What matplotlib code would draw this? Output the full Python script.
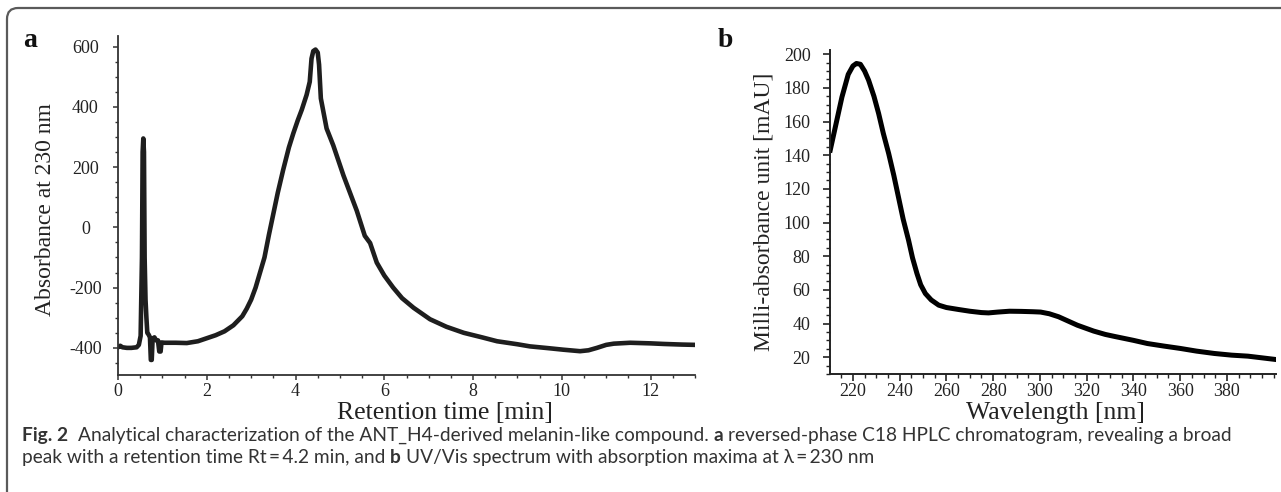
import matplotlib
matplotlib.use("Agg")
import matplotlib.pyplot as plt
from matplotlib.ticker import MultipleLocator
from matplotlib.patches import FancyBboxPatch
from matplotlib.transforms import IdentityTransform

# ---------------- data ----------------
# Panel a: HPLC chromatogram (retention time [min] vs absorbance at 230 nm)
ret_time = [0.0, 0.05, 0.1, 0.2, 0.3, 0.42, 0.47, 0.51, 0.54, 0.555, 0.57, 0.585, 0.60,
            0.62, 0.64, 0.66, 0.69, 0.72, 0.74, 0.76, 0.78, 0.82, 0.86, 0.90, 0.93, 0.96,
            0.98, 1.05, 1.3, 1.55, 1.8, 2.0, 2.2, 2.4, 2.6, 2.8, 2.9, 3.0, 3.1, 3.2, 3.3,
            3.4, 3.5, 3.6, 3.72, 3.85, 3.95, 4.05, 4.14, 4.25, 4.32, 4.36, 4.40, 4.45,
            4.50, 4.53, 4.57, 4.70, 4.85, 5.08, 5.38, 5.56, 5.62, 5.68, 5.83, 6.0, 6.2,
            6.4, 6.66, 7.03, 7.4, 7.79, 8.2, 8.54, 9.0, 9.28, 9.7, 10.03, 10.41, 10.6,
            10.79, 11.0, 11.17, 11.54, 12.0, 12.3, 12.7, 13.0]
absorbance = [-398, -393, -398, -400, -400, -398, -390, -360, -100, 250, 295, 250, -100,
              -240, -300, -350, -356, -365, -440, -440, -370, -365, -375, -375, -412, -412,
              -382, -383, -383, -384, -378, -368, -358, -345, -325, -295, -270, -240, -200,
              -150, -100, -25, 45, 115, 190, 265, 312, 355, 390, 440, 483, 560, 585, 590,
              580, 540, 428, 328, 272, 172, 55, -28, -40, -52, -117, -160, -200, -235, -267,
              -305, -330, -350, -365, -378, -388, -395, -401, -406, -411, -408, -400, -390,
              -386, -383, -385, -387, -389, -390]

# Panel b: UV/Vis spectrum (wavelength [nm] vs milli-absorbance [mAU])
wavelength = [210.3, 213, 215.3, 218, 220, 221.5, 223.2, 225, 226.7, 229, 231, 233, 235.3,
              237.5, 239.5, 241.5, 243.8, 245.5, 247.4, 249, 251, 253.5, 256.7, 260, 265.3,
              270, 275, 278, 282, 287, 292, 297, 300.3, 304, 308, 312, 316, 320, 323, 328,
              332, 340, 346, 353, 360, 367, 374.6, 382, 389, 395, 401]
mau = [143, 160, 174.5, 188, 193, 194.5, 194, 190, 184.6, 175, 164.8, 153, 141, 128, 115,
       102, 89.5, 79, 69.7, 63, 57.8, 54, 50.9, 49.5, 48.3, 47.3, 46.5, 46.3, 46.8, 47.3,
       47.2, 47, 46.8, 45.8, 44, 41.5, 39, 37, 35.5, 33.5, 32.3, 30, 28.1, 26.6, 25.2,
       23.6, 22.2, 21.2, 20.6, 19.6, 18.6]

a_yticks = [-400, -200, 0, 200, 400, 600]
a_xticks = [0, 2, 4, 6, 8, 10, 12]
b_yticks = [20, 40, 60, 80, 100, 120, 140, 160, 180, 200]
b_xticks = [220, 240, 260, 280, 300, 320, 340, 360, 380]

# ---------------- figure ----------------
W, H = 1281, 492
plt.rcParams['font.family'] = ['Liberation Serif', 'DejaVu Serif']
plt.rcParams['axes.unicode_minus'] = False
fig = plt.figure(figsize=(W / 100, H / 100), dpi=100)
fig.patch.set_facecolor('white')


def px_axes(l, t, r, b):
    return [l / W, 1 - b / H, (r - l) / W, (b - t) / H]


# frame with rounded top-left corner
frame = FancyBboxPatch((7, -60), 1500, H - 8 + 60, boxstyle="round,pad=0,rounding_size=11",
                       transform=IdentityTransform(), fill=False, edgecolor='#5a5a5a',
                       linewidth=1.6, clip_on=False)
fig.patches.append(frame)

# ---- panel a ----
axa = fig.add_axes(px_axes(118, 36, 695, 375))
axa.plot(ret_time, absorbance, color='#1e1e1e', lw=3.3, solid_joinstyle='round')
axa.set_xlim(0, 13)
axa.set_ylim(-490, 635)
axa.set_xticks(a_xticks)
axa.set_yticks(a_yticks)
axa.set_yticklabels([str(v) for v in a_yticks])
axa.xaxis.set_minor_locator(MultipleLocator(0.5))
axa.yaxis.set_minor_locator(MultipleLocator(50))
for s in ['top', 'right']:
    axa.spines[s].set_visible(False)
for s in ['left', 'bottom']:
    axa.spines[s].set_color('#333333')
    axa.spines[s].set_linewidth(1.3)
axa.tick_params(axis='both', which='major', direction='out', length=3.5, width=1.1,
                color='#333333', labelsize=13, labelcolor='#222222')
axa.tick_params(axis='both', which='minor', direction='out', length=2.5, width=1.0,
                color='#333333')
axa.tick_params(axis='y', which='major', pad=20)
axa.tick_params(axis='x', which='major', pad=2)
for lab in axa.get_yticklabels():
    lab.set_horizontalalignment('center')

# ---- panel b ----
axb = fig.add_axes(px_axes(830, 50, 1276, 374))
axb.plot(wavelength, mau, color='black', lw=3.6, solid_joinstyle='round')
axb.set_xlim(210.2, 401)
axb.set_ylim(10, 202.5)
axb.set_xticks(b_xticks)
axb.set_yticks(b_yticks)
axb.xaxis.set_minor_locator(MultipleLocator(5))
axb.yaxis.set_minor_locator(MultipleLocator(5))
for s in ['top', 'right']:
    axb.spines[s].set_visible(False)
for s in ['left', 'bottom']:
    axb.spines[s].set_color('#222222')
    axb.spines[s].set_linewidth(1.4)
axb.tick_params(axis='both', which='major', direction='out', length=5, width=1.2,
                color='#222222', labelsize=13, labelcolor='#222222')
axb.tick_params(axis='both', which='minor', direction='out', length=3, width=1.0,
                color='#222222')
axb.tick_params(axis='y', which='major', pad=9)
axb.tick_params(axis='x', which='major', pad=1.5)

# ---- axis labels & panel letters (pixel placement) ----
idt = IdentityTransform()
fig.text(445, H - 419, 'Retention time [min]', transform=idt, ha='center', va='baseline',
         fontsize=18.5, color='#222222')
fig.text(1055, H - 419, 'Wavelength [nm]', transform=idt, ha='center', va='baseline',
         fontsize=18.5, color='#222222')
fig.text(46, H - 210, 'Absorbance at 230 nm', transform=idt, ha='center', va='center',
         rotation=90, fontsize=17, color='#222222')
fig.text(764, H - 212, 'Milli-absorbance unit [mAU]', transform=idt, ha='center',
         va='center', rotation=90, fontsize=17, color='#222222')
fig.text(23, H - 47, 'a', transform=idt, ha='left', va='baseline', fontsize=20,
         fontweight='bold', color='#111111')
fig.text(718, H - 47, 'b', transform=idt, ha='left', va='baseline', fontsize=20,
         fontweight='bold', color='#111111')

# ---- caption (mixed bold / regular) ----
cap_family = ['Lato', 'DejaVu Sans']
cap_color = '#333333'
renderer = fig.canvas.get_renderer()

line1 = [('Fig. 2', 'bold'), None, None,
         ('Analytical characterization of the ANT_H4-derived melanin-like compound.', 'normal'),
         None, ('a', 'bold'), None,
         ('reversed-phase C18 HPLC chromatogram, revealing a broad', 'normal')]
line2 = [('peak with a retention time Rt\u2009=\u20094.2 min, and', 'normal'),
         None, ('b', 'bold'), None,
         ('UV/Vis spectrum with absorption maxima at \u03bb\u2009=\u2009230 nm', 'normal')]


def text_width(s, weight, size):
    t = fig.text(0, 0, s, transform=idt, fontsize=size, family=cap_family,
                 fontweight=weight)
    w = t.get_window_extent(renderer).width
    t.remove()
    return w


def line_width(parts, size):
    sp = text_width('x x', 'normal', size) - text_width('xx', 'normal', size)
    return sum(sp if p is None else text_width(p[0], p[1], size) for p in parts)


# fit caption so its first line spans the same width as in the original
cap_size = 11.5 * (1211.0 / line_width(line1, 11.5))


def rich_line(x, y, parts):
    sp = text_width('x x', 'normal', cap_size) - text_width('xx', 'normal', cap_size)
    for item in parts:
        if item is None:
            x += sp
            continue
        s, weight = item
        t = fig.text(x, y, s, transform=idt, fontsize=cap_size, family=cap_family,
                     fontweight=weight, ha='left', va='baseline', color=cap_color)
        x += t.get_window_extent(renderer).width


rich_line(22, H - 441, line1)
rich_line(22, H - 463, line2)

fig.savefig('out.png', dpi=100, facecolor='white')
